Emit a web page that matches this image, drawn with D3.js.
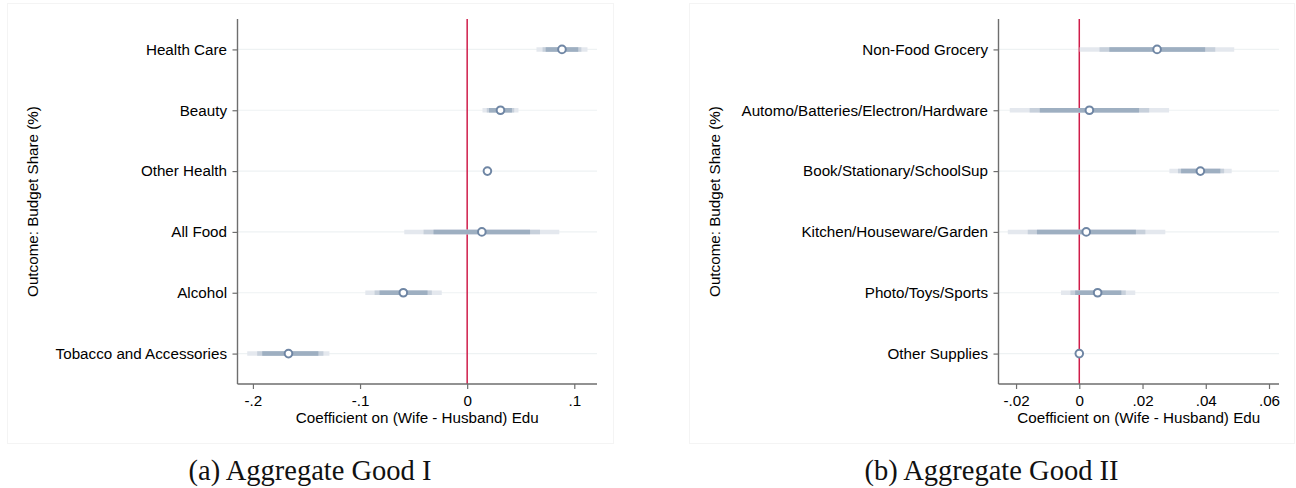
<!DOCTYPE html>
<html>
<head>
<meta charset="utf-8">
<script src="https://cdn.jsdelivr.net/npm/d3@7"></script>
<style>
  html, body { margin: 0; padding: 0; background: #ffffff; }
  svg { display: block; }
</style>
</head>
<body>
<svg id="chart" width="1296" height="488"></svg>
<script>
// Panel (a): aggregate good I
const catsA = ["Health Care", "Beauty", "Other Health", "All Food", "Alcohol", "Tobacco and Accessories"];
const coefA = [0.0885, 0.0311, 0.0189, 0.0137, -0.0596, -0.1668];
const lo99A = [0.0647, 0.0143, 0.0176, -0.0587, -0.0951, -0.2053];
const hi99A = [0.1123, 0.0479, 0.0202, 0.0860, -0.0237, -0.1286];
const lo95A = [0.0704, 0.0183, 0.0178, -0.0407, -0.0864, -0.1960];
const hi95A = [0.1066, 0.0439, 0.0200, 0.0680, -0.0330, -0.1342];
const lo90A = [0.0733, 0.0204, 0.0180, -0.0314, -0.0818, -0.1913];
const hi90A = [0.1037, 0.0418, 0.0198, 0.0587, -0.0370, -0.1389];
const tickValsA = [-0.2, -0.1, 0, 0.1];
const tickLabsA = ["-.2", "-.1", "0", ".1"];

// Panel (b): aggregate good II
const catsB = ["Non-Food Grocery", "Automo/Batteries/Electron/Hardware", "Book/Stationary/SchoolSup",
               "Kitchen/Houseware/Garden", "Photo/Toys/Sports", "Other Supplies"];
const coefB = [0.0246, 0.0032, 0.0383, 0.0022, 0.0058, 0.0000];
const lo99B = [0.0001, -0.0220, 0.0285, -0.0226, -0.0058, -0.0008];
const hi99B = [0.0490, 0.0284, 0.0482, 0.0272, 0.0177, 0.0008];
const lo95B = [0.0064, -0.0157, 0.0312, -0.0163, -0.0028, -0.0006];
const hi95B = [0.0430, 0.0221, 0.0458, 0.0209, 0.0147, 0.0006];
const lo90B = [0.0095, -0.0125, 0.0322, -0.0134, -0.0013, -0.0005];
const hi90B = [0.0398, 0.0189, 0.0446, 0.0179, 0.0133, 0.0005];
const tickValsB = [-0.02, 0, 0.02, 0.04, 0.06];
const tickLabsB = ["-.02", "0", ".02", ".04", ".06"];

const xTitle = "Coefficient on (Wife - Husband) Edu";
const yTitle = "Outcome: Budget Share (%)";

const SANS = "'Liberation Sans', Arial, Helvetica, sans-serif";
const SERIF = "'Liberation Serif', 'Times New Roman', serif";
const FS = 15.2;

const svg = d3.select("#chart");

const panels = [
  { box: [7, 3, 606, 440], plot: [237.5, 597, 19, 384], domain: [-0.2144, 0.1212],
    cats: catsA, coef: coefA, ci: [[lo99A, hi99A], [lo95A, hi95A], [lo90A, hi90A]],
    ticks: tickValsA, labels: tickLabsA, caption: "(a) Aggregate Good I" },
  { box: [689, 3, 605, 440], plot: [998.5, 1279, 19, 384], domain: [-0.02555, 0.06316],
    cats: catsB, coef: coefB, ci: [[lo99B, hi99B], [lo95B, hi95B], [lo90B, hi90B]],
    ticks: tickValsB, labels: tickLabsB, caption: "(b) Aggregate Good II" }
];

// interval shades, widest (99%) to narrowest (90%)
const ciColors = ["#e4e8ee", "#c7d0db", "#9eafc1"];

panels.forEach(p => {
  const [bx, by, bw, bh] = p.box;
  const [pl, pr, pt, pb] = p.plot;

  // faint graph-region frame
  svg.append("rect")
    .attr("x", bx + 0.5).attr("y", by + 0.5)
    .attr("width", bw).attr("height", bh)
    .attr("fill", "#ffffff").attr("stroke", "#f4f4f4").attr("stroke-width", 1);

  const x = d3.scaleLinear().domain(p.domain).range([pl, pr]);
  const y = d3.scalePoint().domain(p.cats).range([pt, pb]).padding(0.5);

  const g = svg.append("g");

  // horizontal grid line per outcome
  g.selectAll("line.grid").data(p.cats).join("line")
    .attr("class", "grid")
    .attr("x1", pl).attr("x2", pr)
    .attr("y1", d => y(d)).attr("y2", d => y(d))
    .attr("stroke", "#eef2f3").attr("stroke-width", 1.2);

  // reference line at zero
  g.append("line")
    .attr("x1", x(0)).attr("x2", x(0))
    .attr("y1", pt).attr("y2", pb)
    .attr("stroke", "#cf1d4a").attr("stroke-width", 1.5);

  // confidence intervals
  p.ci.forEach(([lo, hi], k) => {
    g.selectAll(null).data(p.cats).join("line")
      .attr("x1", (d, i) => x(lo[i])).attr("x2", (d, i) => x(hi[i]))
      .attr("y1", d => y(d)).attr("y2", d => y(d))
      .attr("stroke", ciColors[k]).attr("stroke-width", 4.5);
  });

  // point estimates
  g.selectAll("circle").data(p.cats).join("circle")
    .attr("cx", (d, i) => x(p.coef[i])).attr("cy", d => y(d))
    .attr("r", 3.8)
    .attr("fill", "#ffffff").attr("stroke", "#6f86a4").attr("stroke-width", 2);

  // y axis
  const ya = svg.append("g")
    .attr("transform", `translate(${pl},0)`)
    .call(d3.axisLeft(y).tickSize(5).tickPadding(5.5).tickSizeOuter(0));
  ya.select(".domain").attr("stroke", "#6e6e6e").attr("stroke-width", 1.4)
    .attr("d", `M0,${pt}V${pb}`);
  ya.selectAll(".tick line").attr("stroke", "#6e6e6e").attr("stroke-width", 1.2);
  ya.selectAll(".tick text").attr("font-family", SANS).attr("font-size", FS).attr("fill", "#000");

  // x axis
  const xa = svg.append("g")
    .attr("transform", `translate(0,${pb})`)
    .call(d3.axisBottom(x).tickValues(p.ticks)
      .tickFormat((d, i) => p.labels[i]).tickSize(5).tickPadding(6).tickSizeOuter(0));
  xa.select(".domain").attr("stroke", "#6e6e6e").attr("stroke-width", 1.4)
    .attr("d", `M${pl},0H${pr}`);
  xa.selectAll(".tick line").attr("stroke", "#6e6e6e").attr("stroke-width", 1.2);
  xa.selectAll(".tick text").attr("font-family", SANS).attr("font-size", FS).attr("fill", "#000");

  // axis titles
  svg.append("text")
    .attr("x", (pl + pr) / 2).attr("y", pb + 39)
    .attr("text-anchor", "middle")
    .attr("font-family", SANS).attr("font-size", FS).attr("fill", "#000")
    .text(xTitle);

  svg.append("text")
    .attr("transform", `translate(${bx + 31},${(pt + pb) / 2}) rotate(-90)`)
    .attr("text-anchor", "middle")
    .attr("font-family", SANS).attr("font-size", FS).attr("fill", "#000")
    .text(yTitle);

  // sub-figure caption
  svg.append("text")
    .attr("x", bx + bw / 2).attr("y", 480)
    .attr("text-anchor", "middle")
    .attr("font-family", SERIF).attr("font-size", 28.5).attr("fill", "#111")
    .text(p.caption);
});
</script>
</body>
</html>
